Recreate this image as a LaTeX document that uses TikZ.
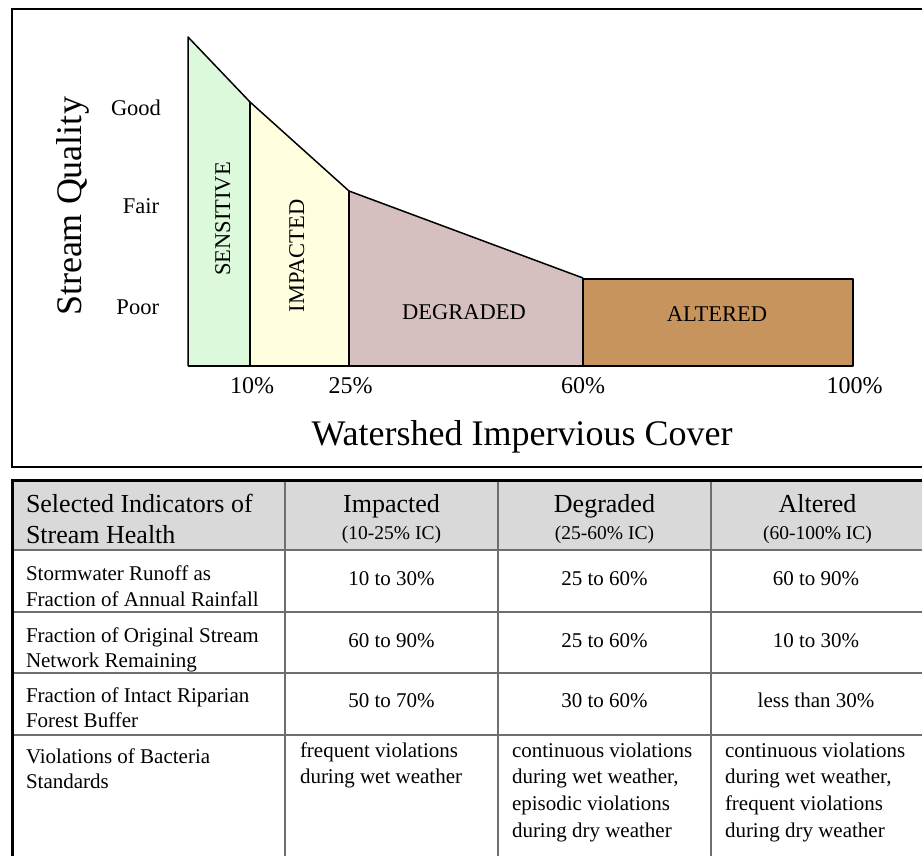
\documentclass[tikz,border=0pt]{standalone}
\usepackage{fontspec}
\setmainfont{Liberation Serif}
\newcommand\fbig{\fontsize{36}{40}\selectfont}
\newcommand\fmid{\fontsize{22.5}{26}\selectfont}
\newcommand\ftick{\fontsize{24}{28}\selectfont}
\newcommand\fhead{\fontsize{26}{30}\selectfont}
\newcommand\fsub{\fontsize{19.5}{22}\selectfont}
\newcommand\fcell{\fontsize{21}{26}\selectfont}
\definecolor{csens}{HTML}{DCF9DC}
\definecolor{cimp}{HTML}{FFFFE0}
\definecolor{cdeg}{HTML}{D5BFBF}
\definecolor{calt}{HTML}{C8945E}
\definecolor{chead}{HTML}{D9D9D9}
\definecolor{cgrid}{HTML}{6E6E6E}
\tikzset{
  zone/.style={draw=black, line width=1.5pt, line join=round},
  lbl/.style={inner sep=0pt, outer sep=0pt},
  grid/.style={draw=cgrid, line width=2pt},
  frame/.style={draw=black, line width=3pt},
}
\begin{document}
\begin{tikzpicture}[x=1pt,y=-1pt]
\useasboundingbox (0,0) rectangle (922,855);
% top frame
\draw[line width=2pt] (924,9) -- (12,9) -- (12,467) -- (924,467);
% zones
\fill[csens] (188,366) -- (188,37) -- (250,102) -- (250,366) -- cycle;
\fill[cimp] (250,366) -- (250,102) -- (349,191) -- (349,366) -- cycle;
\fill[cdeg] (349,366) -- (349,191) -- (583,278) -- (583,366) -- cycle;
\fill[calt] (583,279) rectangle (853,366);
\draw[zone] (188,366) -- (188,37) -- (250,102) -- (349,191) -- (583,278);
\draw[zone] (250,102) -- (250,366);
\draw[zone] (349,191) -- (349,366);
\draw[zone] (583,278) -- (583,366);
\draw[zone] (583,279) rectangle (853,366);
\draw[zone] (188,366) -- (853,366);
% zone labels
\node[lbl, rotate=90, anchor=base, font=\fmid] (sens) at (230,219) {SENSITIVE};
\node[lbl, rotate=90, anchor=base, font=\fmid] (impz) at (304,256) {IMPACTED};
\node[lbl, anchor=base, font=\fmid] (degz) at (464,319) {DEGRADED};
\node[lbl, anchor=base, font=\fmid] (altz) at (717,321) {ALTERED};
% axis labels
\node[lbl, rotate=90, anchor=base, font=\fbig] (yq) at (81,206.5) {Stream Quality};
\node[lbl, anchor=base east, font=\fmid] (good) at (161,115) {Good};
\node[lbl, anchor=base east, font=\fmid] (fair) at (159,213) {Fair};
\node[lbl, anchor=base east, font=\fmid] (poor) at (159,314) {Poor};
\node[lbl, anchor=base, font=\ftick] (t10) at (252,393) {10\%};
\node[lbl, anchor=base, font=\ftick] (t25) at (350.5,393) {25\%};
\node[lbl, anchor=base, font=\ftick] (t60) at (583,393) {60\%};
\node[lbl, anchor=base, font=\ftick] (t100) at (854.5,393) {100\%};
\node[lbl, anchor=base, font=\fbig] (xq) at (522,445) {Watershed Impervious Cover};
% table
\fill[chead] (12,480) rectangle (924,550);
\foreach \yy in {550,612,673,735} \draw[grid] (12,\yy) -- (924,\yy);
\foreach \xx in {285,498,711} \draw[grid] (\xx,480) -- (\xx,857);
\draw[frame] (924,480) -- (12,480) -- (12,857);
% header
\node[lbl, anchor=base west, font=\fhead] (h1a) at (26,512) {Selected Indicators of};
\node[lbl, anchor=base west, font=\fhead] (h1b) at (26,543) {Stream Health};
\node[lbl, anchor=base, font=\fhead] (h2) at (391.5,512) {Impacted};
\node[lbl, anchor=base, font=\fsub] (h2s) at (391.5,539) {(10-25\% IC)};
\node[lbl, anchor=base, font=\fhead] (h3) at (604.5,512) {Degraded};
\node[lbl, anchor=base, font=\fsub] (h3s) at (604.5,539) {(25-60\% IC)};
\node[lbl, anchor=base, font=\fhead] (h4) at (817.5,512) {Altered};
\node[lbl, anchor=base, font=\fsub] (h4s) at (817.5,539) {(60-100\% IC)};
% row 1
\node[lbl, anchor=base west, font=\fcell] (r1a) at (26,580) {Stormwater Runoff as};
\node[lbl, anchor=base west, font=\fcell] (r1b) at (26,606) {Fraction of Annual Rainfall};
\node[lbl, anchor=base, font=\fcell] (r1c2) at (391.5,585) {10 to 30\%};
\node[lbl, anchor=base, font=\fcell] (r1c3) at (604.5,585) {25 to 60\%};
\node[lbl, anchor=base, font=\fcell] (r1c4) at (816,585) {60 to 90\%};
% row 2
\node[lbl, anchor=base west, font=\fcell] (r2a) at (26,642) {Fraction of Original Stream};
\node[lbl, anchor=base west, font=\fcell] (r2b) at (26,667) {Network Remaining};
\node[lbl, anchor=base, font=\fcell] (r2c2) at (391.5,647) {60 to 90\%};
\node[lbl, anchor=base, font=\fcell] (r2c3) at (604.5,647) {25 to 60\%};
\node[lbl, anchor=base, font=\fcell] (r2c4) at (816,647) {10 to 30\%};
% row 3
\node[lbl, anchor=base west, font=\fcell] (r3a) at (26,702) {Fraction of Intact Riparian};
\node[lbl, anchor=base west, font=\fcell] (r3b) at (26,727) {Forest Buffer};
\node[lbl, anchor=base, font=\fcell] (r3c2) at (391.5,707) {50 to 70\%};
\node[lbl, anchor=base, font=\fcell] (r3c3) at (604.5,707) {30 to 60\%};
\node[lbl, anchor=base, font=\fcell] (r3c4) at (816,707) {less than 30\%};
% row 4
\node[lbl, anchor=base west, font=\fcell] (r4a) at (26,763) {Violations of Bacteria};
\node[lbl, anchor=base west, font=\fcell] (r4b) at (26,788) {Standards};
\node[lbl, anchor=base west, font=\fcell] (r4c2a) at (300,757) {frequent violations};
\node[lbl, anchor=base west, font=\fcell] (r4c2b) at (300,783) {during wet weather};
\node[lbl, anchor=base west, font=\fcell] (r4c3a) at (512,757) {continuous violations};
\node[lbl, anchor=base west, font=\fcell] (r4c3b) at (512,783) {during wet weather,};
\node[lbl, anchor=base west, font=\fcell] (r4c3c) at (512,810) {episodic violations};
\node[lbl, anchor=base west, font=\fcell] (r4c3d) at (512,837) {during dry weather};
\node[lbl, anchor=base west, font=\fcell] (r4c4a) at (725,757) {continuous violations};
\node[lbl, anchor=base west, font=\fcell] (r4c4b) at (725,783) {during wet weather,};
\node[lbl, anchor=base west, font=\fcell] (r4c4c) at (725,810) {frequent violations};
\node[lbl, anchor=base west, font=\fcell] (r4c4d) at (725,837) {during dry weather};
\end{tikzpicture}
\end{document}
